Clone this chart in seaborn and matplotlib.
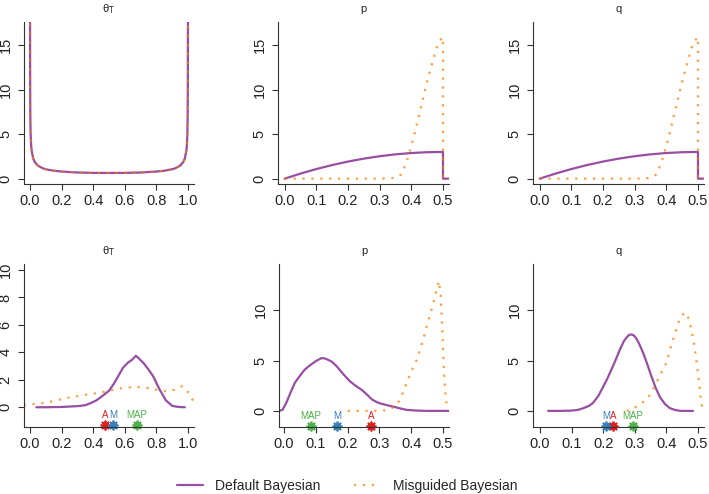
import matplotlib
matplotlib.use("Agg")
import matplotlib.pyplot as plt
import seaborn as sns

sns.set_style("ticks")
plt.rcParams["font.family"] = ["Liberation Sans", "DejaVu Sans"]

# Colours (RColorBrewer Set1)
PURPLE = "#984EA3"
ORANGE = "#FF7F00"
RED = "#E41A1C"
BLUE = "#377EB8"
GREEN = "#4DAF4A"

# ---- Top row: priors ----
theta_prior_x = [0.0003, 0.0006, 0.001, 0.002, 0.004, 0.007, 0.01, 0.02, 0.03, 0.05, 0.08,
                 0.1, 0.15, 0.2, 0.3, 0.4, 0.5, 0.6, 0.7, 0.8, 0.85, 0.9, 0.92, 0.95, 0.97,
                 0.98, 0.99, 0.993, 0.996, 0.998, 0.999, 0.9994, 0.9997]
theta_prior_y = [18.4, 13.0, 10.1, 7.1, 5.0, 3.8, 3.2, 2.27, 1.87, 1.46, 1.17,
                 1.06, 0.89, 0.80, 0.69, 0.65, 0.64, 0.65, 0.69, 0.80, 0.89, 1.06, 1.17, 1.46, 1.87,
                 2.27, 3.2, 3.8, 5.0, 7.1, 10.1, 13.0, 18.4]

pq_prior_default_x = [0.0, 0.05, 0.1, 0.15, 0.2, 0.25, 0.3, 0.35, 0.4, 0.45, 0.5, 0.5, 0.52]
pq_prior_default_y = [0.0, 0.57, 1.08, 1.53, 1.92, 2.25, 2.52, 2.73, 2.88, 2.97, 3.0, 0.0, 0.0]

pq_prior_misguided_x = [0.0, 0.05, 0.1, 0.15, 0.2, 0.25, 0.3, 0.33, 0.35, 0.37, 0.39, 0.41,
                        0.43, 0.45, 0.47, 0.48, 0.49, 0.5, 0.5, 0.52]
pq_prior_misguided_y = [0.0, 0.0, 0.0, 0.0, 0.0, 0.0, 0.0, 0.02, 0.1, 0.5, 2.4, 5.0,
                        8.0, 10.9, 13.5, 14.7, 15.5, 15.9, 0.0, 0.0]

# ---- Bottom row: posteriors ----
theta_post_default_x = [0.04, 0.1, 0.2, 0.3, 0.35, 0.38, 0.42, 0.45, 0.5, 0.53, 0.56, 0.59,
                        0.62, 0.645, 0.67, 0.69, 0.72, 0.75, 0.78, 0.82, 0.86, 0.9, 0.94, 0.98]
theta_post_default_y = [0.0, 0.0, 0.02, 0.08, 0.15, 0.28, 0.5, 0.75, 1.2, 1.7, 2.3, 2.9,
                        3.25, 3.45, 3.75, 3.55, 3.2, 2.75, 2.25, 1.3, 0.5, 0.1, 0.02, 0.0]
theta_post_misguided_x = [-0.04, 0.0, 0.08, 0.15, 0.23, 0.3, 0.37, 0.44, 0.5, 0.55, 0.6, 0.67,
                          0.72, 0.78, 0.83, 0.88, 0.92, 0.96, 0.98, 1.0, 1.02, 1.036]
theta_post_misguided_y = [0.12, 0.2, 0.3, 0.45, 0.68, 0.8, 0.95, 1.05, 1.2, 1.33, 1.42, 1.48,
                          1.45, 1.33, 1.2, 1.15, 1.3, 1.53, 1.45, 1.1, 0.7, 0.44]

p_post_default_x = [-0.016, -0.005, 0.007, 0.02, 0.034, 0.05, 0.065, 0.08, 0.1, 0.118, 0.13,
                    0.15, 0.165, 0.185, 0.207, 0.225, 0.244, 0.26, 0.276, 0.29, 0.302, 0.32,
                    0.344, 0.365, 0.386, 0.42, 0.45, 0.52]
p_post_default_y = [0.0, 0.1, 0.8, 1.8, 2.8, 3.5, 4.1, 4.5, 4.95, 5.25, 5.2,
                    4.9, 4.45, 3.7, 2.95, 2.5, 2.1, 1.65, 1.15, 0.9, 0.75, 0.6,
                    0.42, 0.25, 0.1, 0.03, 0.0, 0.0]
p_post_misguided_x = [0.2, 0.25, 0.3, 0.33, 0.355, 0.37, 0.386, 0.4, 0.418, 0.435, 0.449,
                      0.46, 0.471, 0.48, 0.487, 0.493, 0.498, 0.503, 0.508, 0.513]
p_post_misguided_y = [0.0, 0.0, 0.0, 0.1, 0.6, 1.5, 2.8, 3.9, 5.1, 6.8, 8.4,
                      9.6, 10.9, 12.0, 12.9, 11.5, 8.0, 4.0, 1.5, 0.3]

q_post_default_x = [0.026, 0.06, 0.095, 0.12, 0.137, 0.155, 0.168, 0.185, 0.2, 0.213, 0.226,
                    0.24, 0.253, 0.265, 0.274, 0.282, 0.289, 0.297, 0.305, 0.315, 0.326, 0.34,
                    0.353, 0.366, 0.379, 0.395, 0.411, 0.43, 0.447, 0.484]
q_post_default_y = [0.0, 0.0, 0.02, 0.1, 0.27, 0.5, 0.8, 1.5, 2.4, 3.2, 4.1,
                    5.1, 6.1, 6.9, 7.3, 7.55, 7.6, 7.5, 7.2, 6.6, 5.8, 4.6,
                    3.4, 2.3, 1.4, 0.7, 0.27, 0.07, 0.0, 0.0]
q_post_misguided_x = [0.274, 0.29, 0.305, 0.32, 0.337, 0.352, 0.368, 0.384, 0.4, 0.41, 0.421,
                      0.432, 0.442, 0.45, 0.458, 0.466, 0.474, 0.482, 0.489, 0.495, 0.5,
                      0.504, 0.508, 0.512, 0.516]
q_post_misguided_y = [0.0, 0.15, 0.43, 0.75, 1.1, 1.8, 2.77, 3.8, 4.77, 5.9, 7.1,
                      8.2, 9.1, 9.5, 9.77, 9.6, 8.77, 7.6, 6.43, 5.0, 3.77,
                      2.6, 1.43, 0.6, 0.1]

# Point estimates (A, M, MAP) marked under each posterior
est_labels = ["A", "M", "MAP"]
est_colors = [RED, BLUE, GREEN]
theta_est = [0.475, 0.525, 0.675]
p_est = [0.274, 0.167, 0.085]
q_est = [0.231, 0.209, 0.294]

W, H = 709, 494
fig = plt.figure(figsize=(W / 100, H / 100), dpi=100)


def add_panel(left, top, right, bottom):
    return fig.add_axes([left / W, 1 - bottom / H, (right - left) / W, (bottom - top) / H])


def draw(ax, x1, y1, x2, y2, title, xlim, ylim, xticks, yticks):
    sns.lineplot(x=x1, y=y1, ax=ax, color=PURPLE, linewidth=1.6, estimator=None,
                 sort=False, label="Default Bayesian")
    sns.lineplot(x=x2, y=y2, ax=ax, color=ORANGE, linewidth=1.6, linestyle=(0, (1, 3)),
                 alpha=0.75, estimator=None, sort=False, label="Misguided Bayesian")
    if ax.get_legend() is not None:
        ax.get_legend().remove()
    ax.set_xlim(*xlim)
    ax.set_ylim(*ylim)
    ax.set_xticks(xticks)
    ax.set_xticklabels([f"{t:.1f}" for t in xticks])
    ax.set_yticks(yticks)
    ax.set_yticklabels([f"{t:d}" for t in yticks], rotation=90, va="center")
    ax.set_title(title, fontsize=8, pad=7, color="#222222")
    ax.tick_params(axis="both", direction="out", length=4.3, width=0.8,
                   labelsize=10.5, colors="#333333", labelcolor="#222222")
    ax.tick_params(axis="x", pad=3)
    ax.tick_params(axis="y", pad=4)
    sns.despine(ax=ax)
    for s in ["left", "bottom"]:
        ax.spines[s].set_linewidth(0.8)
        ax.spines[s].set_color("#333333")


def mark_estimates(ax, xs, ystar):
    for lab, col, xv in zip(est_labels, est_colors, xs):
        ax.plot([xv], [ystar], linestyle="none", marker=(8, 2, 0), markersize=7,
                markeredgewidth=1.3, color=col, clip_on=False)
        ax.annotate(lab, (xv, ystar), xytext=(0, 7.5), textcoords="offset points",
                    ha="center", va="center", fontsize=7, color=col)


theta_title = r"θ$_{\mathrm{T}}$"
theta_ticks = [0.0, 0.2, 0.4, 0.6, 0.8, 1.0]
pq_ticks = [0.0, 0.1, 0.2, 0.3, 0.4, 0.5]

ax1 = add_panel(24, 22, 194, 184)
draw(ax1, theta_prior_x, theta_prior_y, theta_prior_x, theta_prior_y, theta_title,
     (-0.038, 1.038), (-0.6, 17.6), theta_ticks, [0, 5, 10, 15])

ax2 = add_panel(278, 22, 449, 184)
draw(ax2, pq_prior_default_x, pq_prior_default_y, pq_prior_misguided_x, pq_prior_misguided_y,
     "p", (-0.021, 0.519), (-0.6, 17.6), pq_ticks, [0, 5, 10, 15])

ax3 = add_panel(533, 22, 704, 184)
draw(ax3, pq_prior_default_x, pq_prior_default_y, pq_prior_misguided_x, pq_prior_misguided_y,
     "q", (-0.021, 0.519), (-0.6, 17.6), pq_ticks, [0, 5, 10, 15])

ax4 = add_panel(24, 264, 194, 427)
draw(ax4, theta_post_default_x, theta_post_default_y, theta_post_misguided_x,
     theta_post_misguided_y, theta_title, (-0.038, 1.038), (-1.44, 10.44), theta_ticks,
     [0, 2, 4, 6, 8, 10])
mark_estimates(ax4, theta_est, -1.3)

ax5 = add_panel(279, 264, 449, 427)
draw(ax5, p_post_default_x, p_post_default_y, p_post_misguided_x, p_post_misguided_y,
     "p", (-0.016, 0.519), (-1.6, 14.6), pq_ticks, [0, 5, 10])
mark_estimates(ax5, p_est, -1.5)

ax6 = add_panel(533, 264, 704, 427)
draw(ax6, q_post_default_x, q_post_default_y, q_post_misguided_x, q_post_misguided_y,
     "q", (-0.022, 0.519), (-1.6, 14.6), pq_ticks, [0, 5, 10])
mark_estimates(ax6, q_est, -1.5)

handles, labels = ax2.get_legend_handles_labels()
fig.legend(handles, labels, loc="center", bbox_to_anchor=(347 / W, 1 - 486 / H), ncol=2,
           frameon=False, fontsize=10, handlelength=1.9, handletextpad=0.9,
           columnspacing=2.4)

fig.savefig("out.png", dpi=100)
